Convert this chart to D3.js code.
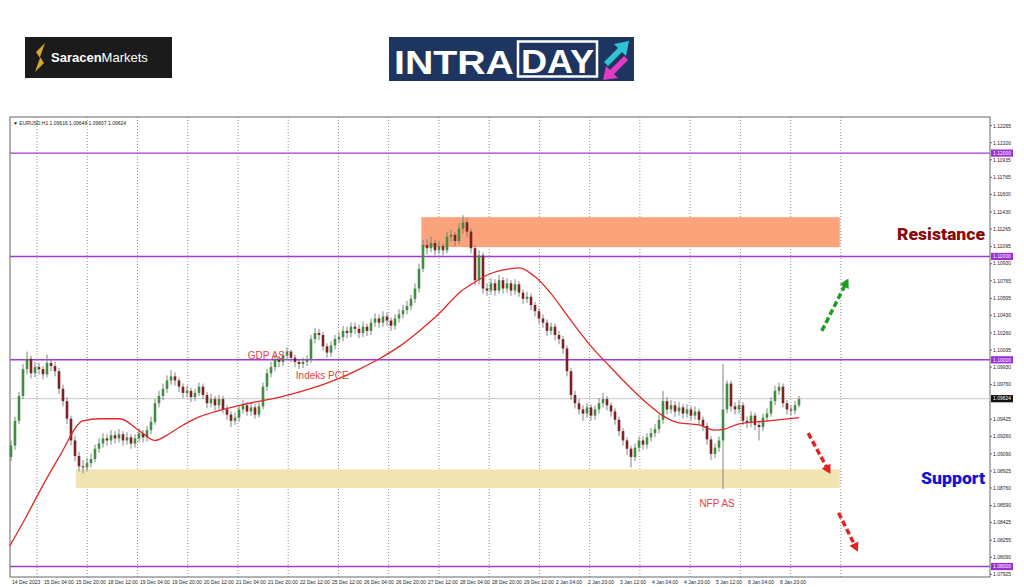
<!DOCTYPE html>
<html lang="en">
<head>
<meta charset="utf-8">
<title>EURUSD H1 - Intraday</title>
<script src="https://d3js.org/d3.v7.min.js"></script>
<style>
  body { margin: 0; background: #fff; }
  svg { display: block; font-family: "Liberation Sans", Arial, sans-serif; }
  .tiny { font-size: 5px; fill: #222; }
  .note { font-size: 10px; fill: #e8413c; }
</style>
</head>
<body>
<div id="vis_container"></div>
<script>
// EURUSD candles (2h buckets)
var opens = [1.0906,1.0917,1.0941,1.0965,1.0991,1.1001,1.0987,1.0993,1.0991,1.0986,1.0997,1.0994,1.0989,1.0972,1.0960,1.0943,1.0922,1.0907,1.0897,1.0896,
  1.0900,1.0904,1.0914,1.0919,1.0924,1.0922,1.0927,1.0924,1.0928,1.0922,1.0925,1.0919,1.0924,1.0929,1.0925,1.0932,1.0940,1.0958,1.0965,1.0972,
  1.0980,1.0984,1.0980,1.0974,1.0968,1.0970,1.0964,1.0968,1.0974,1.0966,1.0958,1.0962,1.0956,1.0962,1.0952,1.0947,1.0941,1.0944,1.0952,1.0956,
  1.0950,1.0954,1.0947,1.0955,1.0974,1.0987,1.0993,1.1000,1.0998,1.1004,1.1008,1.1002,1.0998,1.0996,1.0998,1.1000,1.1020,1.1026,1.1024,1.1013,
  1.1007,1.1014,1.1020,1.1022,1.1028,1.1026,1.1032,1.1030,1.1026,1.1032,1.1028,1.1036,1.1040,1.1036,1.1042,1.1038,1.1033,1.1040,1.1044,1.1048,
  1.1052,1.1059,1.1069,1.1088,1.1111,1.1108,1.1113,1.1106,1.1110,1.1106,1.1119,1.1121,1.1115,1.1127,1.1133,1.1124,1.1108,1.1077,1.1101,1.1069,
  1.1067,1.1074,1.1067,1.1077,1.1069,1.1074,1.1067,1.1073,1.1065,1.1059,1.1061,1.1053,1.1047,1.1040,1.1036,1.1028,1.1032,1.1024,1.1020,1.1011,
  1.0989,1.0966,1.0958,1.0952,1.0948,1.0954,1.0946,1.0952,1.0958,1.0962,1.0956,1.0950,1.0942,1.0931,1.0922,1.0914,1.0906,1.0915,1.0922,1.0918,
  1.0925,1.0929,1.0933,1.0942,1.0960,1.0952,1.0956,1.0950,1.0954,1.0948,1.0952,1.0946,1.0950,1.0942,1.0936,1.0923,1.0909,1.0915,1.0922,1.0952,
  1.0977,1.0955,1.0952,1.0956,1.0941,1.0939,1.0946,1.0937,1.0935,1.0944,1.0948,1.0960,1.0970,1.0974,1.0958,1.0952,1.0951,1.0956];
var highs = [1.0922,1.0945,1.0969,1.0996,1.1008,1.1004,1.0998,1.0997,1.0994,1.1005,1.1001,1.0998,1.0992,1.0976,1.0964,1.0946,1.0926,1.0911,1.0903,1.0905,
  1.0909,1.0918,1.0924,1.0929,1.0928,1.0932,1.0931,1.0933,1.0931,1.0930,1.0928,1.0928,1.0934,1.0932,1.0936,1.0945,1.0962,1.0970,1.0977,1.0985,
  1.0990,1.0988,1.0983,1.0977,1.0975,1.0973,1.0972,1.0978,1.0977,1.0969,1.0967,1.0965,1.0966,1.0965,1.0956,1.0950,1.0949,1.0956,1.0961,1.0959,
  1.0958,1.0957,1.0959,1.0978,1.0991,1.0998,1.1005,1.1004,1.1008,1.1012,1.1010,1.1005,1.1001,1.1002,1.1004,1.1024,1.1031,1.1030,1.1027,1.1016,
  1.1018,1.1024,1.1027,1.1033,1.1032,1.1036,1.1036,1.1034,1.1037,1.1035,1.1040,1.1045,1.1044,1.1047,1.1046,1.1041,1.1044,1.1049,1.1053,1.1057,
  1.1063,1.1074,1.1093,1.1116,1.1117,1.1119,1.1116,1.1115,1.1113,1.1124,1.1126,1.1124,1.1132,1.1140,1.1137,1.1127,1.1111,1.1106,1.1104,1.1074,
  1.1079,1.1078,1.1082,1.1080,1.1079,1.1077,1.1078,1.1076,1.1068,1.1066,1.1064,1.1056,1.1050,1.1044,1.1039,1.1036,1.1035,1.1028,1.1023,1.1014,
  1.0992,1.0970,1.0962,1.0956,1.0958,1.0957,1.0956,1.0963,1.0968,1.0965,1.0959,1.0953,1.0945,1.0934,1.0925,1.0917,1.0919,1.0926,1.0926,1.0929,
  1.0934,1.0938,1.0947,1.0970,1.0964,1.0961,1.0960,1.0959,1.0957,1.0957,1.0955,1.0955,1.0953,1.0945,1.0939,1.0926,1.0919,1.0926,1.0996,1.0980,
  1.0980,1.0959,1.0961,1.0959,1.0945,1.0950,1.0949,1.0941,1.0948,1.0953,1.0964,1.0975,1.0978,1.0977,1.0961,1.0956,1.0960,1.0965];
var lows = [1.0902,1.0913,1.0938,1.0962,1.0986,1.0982,1.0983,1.0986,1.0981,1.0983,1.0989,1.0984,1.0967,1.0955,1.0938,1.0917,1.0902,1.0892,1.0890,1.0892,
  1.0896,1.0901,1.0910,1.0915,1.0917,1.0918,1.0919,1.0920,1.0917,1.0918,1.0914,1.0915,1.0920,1.0920,1.0921,1.0928,1.0937,1.0954,1.0961,1.0968,
  1.0976,1.0975,1.0969,1.0963,1.0964,1.0959,1.0960,1.0965,1.0962,1.0953,1.0954,1.0951,1.0952,1.0948,1.0942,1.0935,1.0937,1.0940,1.0948,1.0946,
  1.0946,1.0943,1.0944,1.0952,1.0970,1.0983,1.0989,1.0993,1.0994,1.1000,1.0998,1.0993,1.0991,1.0992,1.0994,1.0997,1.1016,1.1019,1.1009,1.1002,
  1.1003,1.1010,1.1016,1.1018,1.1021,1.1022,1.1025,1.1021,1.1022,1.1023,1.1024,1.1032,1.1031,1.1032,1.1033,1.1028,1.1029,1.1036,1.1040,1.1044,
  1.1048,1.1055,1.1065,1.1085,1.1102,1.1104,1.1101,1.1102,1.1101,1.1103,1.1114,1.1110,1.1112,1.1122,1.1119,1.1103,1.1072,1.1073,1.1064,1.1062,
  1.1063,1.1062,1.1064,1.1064,1.1065,1.1062,1.1063,1.1061,1.1054,1.1055,1.1048,1.1042,1.1035,1.1031,1.1023,1.1024,1.1019,1.1015,1.1006,1.0984,
  1.0961,1.0953,1.0947,1.0941,1.0944,1.0941,1.0942,1.0948,1.0954,1.0951,1.0945,1.0937,1.0926,1.0917,1.0908,1.0896,1.0902,1.0911,1.0913,1.0914,
  1.0921,1.0925,1.0929,1.0938,1.0947,1.0948,1.0945,1.0946,1.0943,1.0944,1.0941,1.0942,1.0937,1.0931,1.0918,1.0903,1.0905,1.0911,1.0875,1.0948,
  1.0950,1.0947,1.0948,1.0937,1.0934,1.0935,1.0932,1.0922,1.0931,1.0940,1.0945,1.0956,1.0966,1.0954,1.0947,1.0946,1.0947,1.0954];
var closes = [1.0917,1.0941,1.0965,1.0991,1.1001,1.0987,1.0993,1.0991,1.0986,1.0997,1.0994,1.0989,1.0972,1.0960,1.0943,1.0922,1.0907,1.0897,1.0896,1.0900,
  1.0904,1.0914,1.0919,1.0924,1.0922,1.0927,1.0924,1.0928,1.0922,1.0925,1.0919,1.0924,1.0929,1.0925,1.0932,1.0940,1.0958,1.0965,1.0972,1.0980,
  1.0984,1.0980,1.0974,1.0968,1.0970,1.0964,1.0968,1.0974,1.0966,1.0958,1.0962,1.0956,1.0962,1.0952,1.0947,1.0941,1.0944,1.0952,1.0956,1.0950,
  1.0954,1.0947,1.0955,1.0974,1.0987,1.0993,1.1000,1.0998,1.1004,1.1008,1.1002,1.0998,1.0996,1.0998,1.1000,1.1020,1.1026,1.1024,1.1013,1.1007,
  1.1014,1.1020,1.1022,1.1028,1.1026,1.1032,1.1030,1.1026,1.1032,1.1028,1.1036,1.1040,1.1036,1.1042,1.1038,1.1033,1.1040,1.1044,1.1048,1.1052,
  1.1059,1.1069,1.1088,1.1111,1.1108,1.1113,1.1106,1.1110,1.1106,1.1119,1.1121,1.1115,1.1127,1.1133,1.1124,1.1108,1.1077,1.1101,1.1069,1.1067,
  1.1074,1.1067,1.1077,1.1069,1.1074,1.1067,1.1073,1.1065,1.1059,1.1061,1.1053,1.1047,1.1040,1.1036,1.1028,1.1032,1.1024,1.1020,1.1011,1.0989,
  1.0966,1.0958,1.0952,1.0948,1.0954,1.0946,1.0952,1.0958,1.0962,1.0956,1.0950,1.0942,1.0931,1.0922,1.0914,1.0906,1.0915,1.0922,1.0918,1.0925,
  1.0929,1.0933,1.0942,1.0960,1.0952,1.0956,1.0950,1.0954,1.0948,1.0952,1.0946,1.0950,1.0942,1.0936,1.0923,1.0909,1.0915,1.0922,1.0952,1.0977,
  1.0955,1.0952,1.0956,1.0941,1.0939,1.0946,1.0937,1.0935,1.0944,1.0948,1.0960,1.0970,1.0974,1.0958,1.0952,1.0951,1.0956,1.0962];

// red moving average: bar position / value
var maBar = [-0.3,3.5,7.2,12.2,18,22.2,27.2,32.2,36,38.5,42.2,47.2,52.2,57.2,62.2,67.2,72.2,77.2,82.1,87.1,92.1,97.1,102.1,107.1,112.1,115.9,
  119.6,124.6,127.1,130.8,134.6,139.6,144.6,149.6,154.6,159.6,163.3,167,172,175.8,178.3,182,189.5,197];
var maVal = [1.0820,1.0846,1.0873,1.0907,1.0941,1.0943,1.0943,1.0931,1.0922,1.0926,1.0935,1.0945,1.0951,1.0956,1.0960,1.0964,1.0969,1.0975,1.0982,1.0991,
  1.1001,1.1013,1.1028,1.1045,1.1065,1.1075,1.1083,1.1088,1.1089,1.1081,1.1066,1.1040,1.1015,1.0994,1.0974,1.0956,1.0945,1.0939,1.0937,1.0932,1.0933,1.0938,1.0941,1.0944];

var timeLabels = ["14 Dec 2023","15 Dec 04:00","15 Dec 20:00","18 Dec 12:00","19 Dec 04:00","19 Dec 20:00","20 Dec 12:00","21 Dec 04:00",
  "21 Dec 20:00","22 Dec 12:00","25 Dec 12:00","26 Dec 04:00","26 Dec 20:00","27 Dec 12:00","28 Dec 04:00","28 Dec 20:00","29 Dec 12:00",
  "2 Jan 04:00","2 Jan 20:00","3 Jan 12:00","4 Jan 04:00","4 Jan 20:00","5 Jan 12:00","8 Jan 04:00","8 Jan 20:00"];
var priceTicks = [1.12265,1.12100,1.11935,1.11765,1.11600,1.11430,1.11265,1.11095,1.10930,1.10765,1.10595,1.10430,1.10260,1.10095,1.09930,1.09760,
  1.09425,1.09260,1.09090,1.08925,1.08760,1.08590,1.08425,1.08255,1.08090,1.07925];
var levels = [1.12000, 1.11000, 1.10000, 1.08000];
var lastPrice = 1.09624;

var width = 1024, height = 587;
var plot = {left: 10, right: 990, top: 117, bottom: 577};

var svg = d3.select("#vis_container").append("svg")
    .attr("width", width).attr("height", height);

var x = d3.scaleLinear().domain([0, closes.length - 1]).range([11, 799]);
var y = d3.scaleLinear().domain([1.07925, 1.12265]).range([574.3, 125.7]);

// --- logos
var logo1 = svg.append("g");
logo1.append("rect").attr("x", 25).attr("y", 37).attr("width", 147).attr("height", 41).attr("fill", "#1b1b1b");
logo1.append("path").attr("d", "M45,43 L36,52 L40,58 L35,72 L44,63 L40,57 Z").attr("fill", "#d9a72e");
logo1.append("text").attr("x", 51).attr("y", 62).attr("fill", "#fff").style("font-size", "13px")
  .html('<tspan font-weight="bold">Saracen</tspan><tspan>Markets</tspan>');

var logo2 = svg.append("g");
logo2.append("rect").attr("x", 389).attr("y", 37).attr("width", 245).attr("height", 44).attr("fill", "#1d3560");
logo2.append("text").attr("x", 394).attr("y", 74).attr("fill", "#fff")
  .style("font-size", "34px").style("font-weight", "bold")
  .attr("textLength", 120).attr("lengthAdjust", "spacingAndGlyphs").text("INTRA");
logo2.append("rect").attr("x", 518).attr("y", 41.5).attr("width", 79).attr("height", 35)
  .attr("fill", "none").attr("stroke", "#fff").attr("stroke-width", 2.5);
logo2.append("text").attr("x", 521).attr("y", 73).attr("fill", "#fff")
  .style("font-size", "34px").style("font-weight", "bold")
  .attr("textLength", 73).attr("lengthAdjust", "spacingAndGlyphs").text("DAY");
logo2.append("path").attr("d", "M604,62 L618,48 L614,44 L629,41 L626,56 L622,52 L608,66 Z").attr("fill", "#2ec4d4");
logo2.append("path").attr("d", "M628,60 L614,74 L618,78 L603,80 L606,66 L610,70 L624,56 Z").attr("fill", "#e33bc4");

// --- chart frame
var chart = svg.append("g");
chart.append("rect").attr("x", plot.left).attr("y", plot.top)
  .attr("width", plot.right - plot.left).attr("height", plot.bottom - plot.top)
  .attr("fill", "#fff").attr("stroke", "#666").attr("stroke-width", 1);

// dotted vertical grid (every 12.56 bars, as on the terminal)
var gridBars = d3.range(0, 17).map(function(k) { return 6.5 + k * 12.56; });
chart.selectAll(".vgrid").data(gridBars).enter().append("line")
  .attr("x1", function(d) { return x(d); }).attr("x2", function(d) { return x(d); })
  .attr("y1", plot.top).attr("y2", plot.bottom)
  .attr("stroke", "#777").attr("stroke-width", 0.8).attr("stroke-dasharray", "1,2");

// zones
var zones = [
  {from: 102.6, to: 207.2, lo: 1.1109, hi: 1.1138, fill: "#fba47c"},
  {from: 16.2, to: 207.2, lo: 1.0876, hi: 1.0894, fill: "#f0e4b3"}
];
chart.selectAll(".zone").data(zones).enter().append("rect")
  .attr("x", function(d) { return x(d.from); })
  .attr("width", function(d) { return x(d.to) - x(d.from); })
  .attr("y", function(d) { return y(d.hi); })
  .attr("height", function(d) { return y(d.lo) - y(d.hi); })
  .attr("fill", function(d) { return d.fill; });

// last price line
chart.append("line").attr("x1", plot.left).attr("x2", plot.right)
  .attr("y1", y(lastPrice)).attr("y2", y(lastPrice)).attr("stroke", "#c8c8c8").attr("stroke-width", 1);

// purple levels
chart.selectAll(".lvl").data(levels).enter().append("line")
  .attr("x1", plot.left).attr("x2", plot.right)
  .attr("y1", function(d) { return y(d); }).attr("y2", function(d) { return y(d); })
  .attr("stroke", "#a03ad8").attr("stroke-width", 1.4);

// candles
var bars = d3.range(closes.length);
chart.selectAll(".wick").data(bars).enter().append("line")
  .attr("x1", function(i) { return x(i); }).attr("x2", function(i) { return x(i); })
  .attr("y1", function(i) { return y(highs[i]); }).attr("y2", function(i) { return y(lows[i]); })
  .attr("stroke", "#777").attr("stroke-width", 0.9);
chart.selectAll(".body").data(bars).enter().append("rect")
  .attr("x", function(i) { return x(i) - 1.3; }).attr("width", 2.6)
  .attr("y", function(i) { return y(Math.max(opens[i], closes[i])); })
  .attr("height", function(i) { return Math.max(0.8, Math.abs(y(opens[i]) - y(closes[i]))); })
  .attr("fill", function(i) { return closes[i] >= opens[i] ? "#3f8f3f" : "#7d2222"; });

// moving average
var ma = d3.line().x(function(d) { return x(d[0]); }).y(function(d) { return y(d[1]); }).curve(d3.curveMonotoneX);
chart.append("path").datum(d3.zip(maBar, maVal)).attr("d", ma)
  .attr("fill", "none").attr("stroke", "#e02828").attr("stroke-width", 1.3);

// right price axis
var axis = svg.append("g");
axis.selectAll(".pt").data(priceTicks).enter().append("text").attr("class", "tiny")
  .attr("x", 993).attr("y", function(d) { return y(d) + 1.8; }).text(function(d) { return d.toFixed(5); });
axis.selectAll(".ptk").data(priceTicks).enter().append("line")
  .attr("x1", plot.right).attr("x2", plot.right + 2)
  .attr("y1", function(d) { return y(d); }).attr("y2", function(d) { return y(d); }).attr("stroke", "#666");
var tags = levels.map(function(v) { return {v: v, c: "#9d2fd6"}; }).concat([{v: lastPrice, c: "#111"}]);
var tag = axis.selectAll(".tag").data(tags).enter().append("g");
tag.append("rect").attr("x", 991).attr("y", function(d) { return y(d.v) - 3.6; })
  .attr("width", 22).attr("height", 7.2).attr("fill", function(d) { return d.c; });
tag.append("text").attr("x", 993).attr("y", function(d) { return y(d.v) + 1.8; })
  .style("font-size", "5px").attr("fill", "#fff").text(function(d) { return d.v.toFixed(5); });

// time axis
axis.selectAll(".tl").data(timeLabels).enter().append("text").attr("class", "tiny")
  .attr("x", function(d, k) { return x(k * 8) + 1; }).attr("y", 583.5).text(function(d) { return d; });

// header
svg.append("text").attr("class", "tiny").attr("x", 13).attr("y", 124.5)
  .text("\u25BC EURUSD,H1  1.09616 1.09648 1.09607 1.09624");

// notes
var notes = [
  {t: "GDP AS", bar: 59.2, p: 1.1001},
  {t: "Indeks PCE", bar: 71.2, p: 1.0981},
  {t: "NFP AS", bar: 172.1, p: 1.0858}
];
svg.selectAll(".note").data(notes).enter().append("text").attr("class", "note")
  .attr("x", function(d) { return x(d.bar); }).attr("y", function(d) { return y(d.p); }).text(function(d) { return d.t; });

svg.append("text").attr("x", 897).attr("y", 240).attr("fill", "#870b0b")
  .style("font-size", "17px").style("font-weight", "900").style("font-family", "Roboto, sans-serif")
  .attr("textLength", 88).attr("lengthAdjust", "spacingAndGlyphs").text("Resistance");
svg.append("text").attr("x", 921).attr("y", 484).attr("fill", "#1212d8")
  .style("font-size", "17px").style("font-weight", "900").style("font-family", "Roboto, sans-serif")
  .attr("textLength", 64).attr("lengthAdjust", "spacingAndGlyphs").text("Support");

// dashed arrows
var arrows = [
  {b0: 202.7, p0: 1.1028, b1: 209.0, p1: 1.1076, c: "#1f9a22"},
  {b0: 199.3, p0: 1.0929, b1: 204.5, p1: 1.0892, c: "#e32222"},
  {b0: 206.9, p0: 1.0852, b1: 211.4, p1: 1.0817, c: "#e32222"}
];
var arr = svg.selectAll(".arr").data(arrows).enter().append("g");
arr.append("line")
  .attr("x1", function(d) { return x(d.b0); }).attr("y1", function(d) { return y(d.p0); })
  .attr("x2", function(d) { return x(d.b1); }).attr("y2", function(d) { return y(d.p1); })
  .attr("stroke", function(d) { return d.c; }).attr("stroke-width", 3.5).attr("stroke-dasharray", "6,3");
arr.append("path").attr("fill", function(d) { return d.c; })
  .attr("d", function(d) {
    var x1 = x(d.b1), y1 = y(d.p1), ang = Math.atan2(y1 - y(d.p0), x1 - x(d.b0));
    var L = 9, W = 5;
    var tx = x1 + Math.cos(ang) * 3, ty = y1 + Math.sin(ang) * 3;
    var bx = tx - Math.cos(ang) * L, by = ty - Math.sin(ang) * L;
    return "M" + tx + "," + ty + "L" + (bx - Math.sin(ang) * W) + "," + (by + Math.cos(ang) * W) +
      "L" + (bx + Math.sin(ang) * W) + "," + (by - Math.cos(ang) * W) + "Z";
  });
</script>
</body>
</html>
